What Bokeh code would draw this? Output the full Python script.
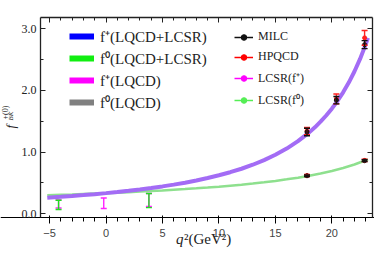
import math
from bokeh.plotting import figure
from bokeh.models import (Range1d, LinearAxis, Legend, LegendItem, Whisker, TeeHead,
                          ColumnDataSource, Label, FixedTicker, NumeralTickFormatter)
from bokeh.embed import file_html
from bokeh.resources import INLINE

# ---------------- data ----------------
q2_fplus_curve = [-5.2, -4, -3, -2, -1, 0, 1, 2, 3, 4, 5, 6, 7, 8, 9, 10, 11, 12, 13, 14,
                  15, 16, 17, 18, 18.5, 19, 19.5, 20, 20.5, 21, 21.5, 22, 22.5, 23, 23.2]
fplus_curve = [0.261, 0.276, 0.289, 0.303, 0.318, 0.335, 0.353, 0.373, 0.394, 0.418, 0.444,
               0.473, 0.504, 0.540, 0.579, 0.624, 0.674, 0.730, 0.795, 0.870, 0.956, 1.057,
               1.177, 1.319, 1.401, 1.492, 1.592, 1.703, 1.828, 1.967, 2.125, 2.305, 2.509,
               2.744, 2.849]

q2_f0_curve = [-5.2, -4, -3, -2, -1, 0, 1, 2, 3, 4, 5, 6, 7, 8, 9, 10, 11, 12, 13, 14,
               15, 16, 17, 18, 19, 20, 21, 22, 23, 23.2]
f0_curve = [0.300, 0.308, 0.314, 0.321, 0.328, 0.335, 0.343, 0.351, 0.360, 0.369, 0.379,
            0.390, 0.401, 0.413, 0.426, 0.440, 0.456, 0.472, 0.491, 0.511, 0.533, 0.558,
            0.585, 0.616, 0.652, 0.693, 0.741, 0.798, 0.867, 0.880]

milc_q2 = [17.8, 20.4, 22.9]
milc_fplus = [1.325, 1.84, 2.74]
milc_fplus_err = [0.06, 0.06, 0.065]
hpqcd_fplus = [1.34, 1.86, 2.85]
hpqcd_fplus_err = [0.06, 0.08, 0.12]

f0_q2 = [17.8, 22.9]
milc_f0 = [0.616, 0.86]
milc_f0_err = [0.012, 0.015]
hpqcd_f0 = [0.62, 0.865]
hpqcd_f0_err = [0.016, 0.02]

lcsr_fplus_q2 = [-4.2, -0.2, 3.8]
lcsr_fplus = [0.16, 0.17, 0.225]
lcsr_fplus_err = [0.065, 0.085, 0.105]
lcsr_f0_q2 = [-4.2, 3.8]
lcsr_f0 = [0.145, 0.215]
lcsr_f0_err = [0.075, 0.115]

x_major = [-5, 0, 5, 10, 15, 20]
x_minor = list(range(-5, 24))
y_major = [0, 1, 2, 3]
y_minor = [0, 0.5, 1.0, 1.5, 2.0, 2.5, 3.0]

# visible plot box (data limits of the framed region)
X0, X1 = -5.8, 23.6
Y0, Y1 = -0.06, 3.18

FONT = "Liberation Serif"
NAN = float("nan")
INK = "#222222"

# The frame fills the whole canvas; the axes are pinned at the box edges, so that
# the axis titles (Labels) are not clipped.
p = figure(width=374, height=259, x_range=Range1d(-9.343, 23.777),
           y_range=Range1d(-0.740, 3.455),
           output_backend="svg", toolbar_location=None,
           min_border_left=0, min_border_right=0, min_border_top=0, min_border_bottom=0)
p.grid.visible = False
p.outline_line_color = None
p.background_fill_color = "white"
p.border_fill_color = "white"

p.xaxis.fixed_location = Y0
p.yaxis.fixed_location = X0
p.xaxis.ticker = FixedTicker(ticks=x_major, minor_ticks=x_minor)
p.yaxis.ticker = FixedTicker(ticks=y_major, minor_ticks=y_minor)
p.yaxis.formatter = NumeralTickFormatter(format="0.0")
p.xaxis.major_label_overrides = {-5: "\u22125"}

top_ax = LinearAxis(ticker=FixedTicker(ticks=x_major, minor_ticks=x_minor), fixed_location=Y1)
right_ax = LinearAxis(ticker=FixedTicker(ticks=y_major, minor_ticks=y_minor), fixed_location=X1)
p.add_layout(top_ax, "above")
p.add_layout(right_ax, "right")

for ax in [p.xaxis[0], top_ax]:
    ax.bounds = (X0, X1)
for ax in [p.yaxis[0], right_ax]:
    ax.bounds = (Y0, Y1)

for ax in [p.xaxis[0], p.yaxis[0], top_ax, right_ax]:
    ax.major_tick_in = 5
    ax.major_tick_out = 0
    ax.minor_tick_in = 3
    ax.minor_tick_out = 0
    ax.axis_line_color = INK
    ax.axis_line_width = 1.3
    ax.major_tick_line_color = INK
    ax.minor_tick_line_color = INK
    ax.major_label_text_font = FONT
    ax.major_label_text_font_size = "12px"
    ax.major_label_text_color = INK
    ax.major_label_standoff = 4
for ax in [top_ax, right_ax]:
    ax.major_label_text_font_size = "0px"
    ax.major_label_standoff = 0

# curves
p.line(q2_f0_curve, f0_curve, line_color="#8ee08e", line_width=2.5)
p.line(q2_fplus_curve, fplus_curve, line_color="#a36cf5", line_width=4)


def add_err(xs, ys, es, color, width=1.4, size=6):
    src = ColumnDataSource(dict(x=xs, upper=[y + e for y, e in zip(ys, es)],
                                lower=[y - e for y, e in zip(ys, es)]))
    w = Whisker(source=src, base="x", upper="upper", lower="lower", dimension="height",
                line_color=color, line_width=width,
                upper_head=TeeHead(size=size, line_color=color, line_width=width),
                lower_head=TeeHead(size=size, line_color=color, line_width=width),
                level="annotation")
    p.add_layout(w)


add_err(lcsr_fplus_q2, lcsr_fplus, lcsr_fplus_err, "#ff22ff")
add_err(lcsr_f0_q2, lcsr_f0, lcsr_f0_err, "#22dd22")
add_err(milc_q2, hpqcd_fplus, hpqcd_fplus_err, "#ff2020")
add_err(f0_q2, hpqcd_f0, hpqcd_f0_err, "#ff2020")
add_err(milc_q2, milc_fplus, milc_fplus_err, "#111111")
add_err(f0_q2, milc_f0, milc_f0_err, "#111111")

p.scatter(milc_q2, hpqcd_fplus, size=4, color="#ff2020")
p.scatter(f0_q2, hpqcd_f0, size=4, color="#ff2020")
p.scatter(milc_q2, milc_fplus, size=4, color="#111111")
p.scatter(f0_q2, milc_f0, size=4, color="#111111")

# legend-only renderers (NaN data: nothing drawn in the plot area)
def band(color):
    return p.line(x=[NAN], y=[NAN], line_color=color, line_width=6, line_cap="butt")

def linedot(color):
    return [p.line(x=[NAN], y=[NAN], line_color=color, line_width=1.5),
            p.scatter(x=[NAN], y=[NAN], size=5, color=color)]

left_items = [
    LegendItem(label="f\u207a(LQCD+LCSR)", renderers=[band("#0000ff")]),
    LegendItem(label="f\u2070(LQCD+LCSR)", renderers=[band("#11ee11")]),
    LegendItem(label="f\u207a(LQCD)", renderers=[band("#ff00ff")]),
    LegendItem(label="f\u2070(LQCD)", renderers=[band("#808080")]),
]
right_items = [
    LegendItem(label="MILC", renderers=linedot("#111111")),
    LegendItem(label="HPQCD", renderers=linedot("#ff0000")),
    LegendItem(label="LCSR(f\u207a)", renderers=linedot("#ff00ff")),
    LegendItem(label="LCSR(f\u2070)", renderers=linedot("#55ee55")),
]

leg1 = Legend(items=left_items, location=(69, 147), glyph_width=25, glyph_height=14,
              label_height=14, spacing=2, padding=0, margin=0, label_standoff=6,
              border_line_color=None, background_fill_alpha=0,
              label_text_font=FONT, label_text_font_size="15px", label_text_color=INK)
leg2 = Legend(items=right_items, location=(234, 151), glyph_width=19, glyph_height=14,
              label_height=14, spacing=5, padding=0, margin=0, label_standoff=5,
              border_line_color=None, background_fill_alpha=0,
              label_text_font=FONT, label_text_font_size="12px", label_text_color=INK)
p.add_layout(leg1)
p.add_layout(leg2)

# x axis title: italic q, then the rest
p.add_layout(Label(x=6.866, y=-0.40, text="q", text_font=FONT, text_font_style="italic",
                   text_font_size="15px", text_align="right", text_baseline="middle",
                   text_color=INK))
p.add_layout(Label(x=6.90, y=-0.40, text="\u00b2(GeV\u00b2)", text_font=FONT,
                   text_font_size="15px", text_align="left", text_baseline="middle",
                   text_color=INK))

# y axis title, built from pieces: f, superscript +(0), subscript BK (rotated)
p.add_layout(Label(x=-8.50, y=1.382, text="f", text_font=FONT, text_font_style="italic",
                   text_font_size="13px", angle=math.pi / 2, text_align="left",
                   text_baseline="middle", text_color=INK))
p.add_layout(Label(x=-8.90, y=1.528, text="+(0)", text_font=FONT,
                   text_font_size="8px", angle=math.pi / 2, text_align="left",
                   text_baseline="middle", text_color=INK))
p.add_layout(Label(x=-8.40, y=1.512, text="BK", text_font=FONT, text_font_style="italic",
                   text_font_size="7px", angle=math.pi / 2, text_align="left",
                   text_baseline="middle", text_color=INK))

open("out.html", "w").write(file_html(p, INLINE))
